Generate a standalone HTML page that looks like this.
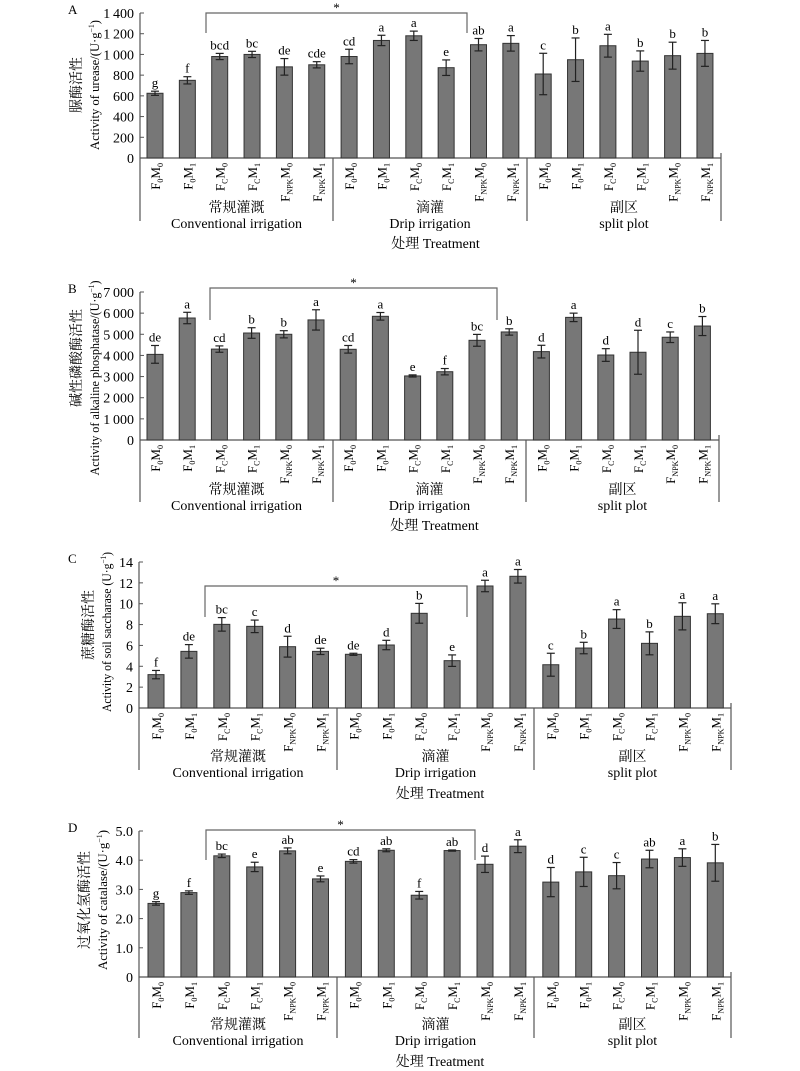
<!DOCTYPE html>
<html><head><meta charset="utf-8">
<style>
html,body{margin:0;padding:0;background:#fff;}
svg{display:block;font-family:"Liberation Serif","Noto Serif CJK SC",serif;}
</style></head>
<body>
<svg id="s" width="800" height="1071" viewBox="0 0 800 1071" xmlns="http://www.w3.org/2000/svg"></svg>
<script>
var NS="http://www.w3.org/2000/svg",S=document.getElementById('s');
function el(t,a,txt){var e=document.createElementNS(NS,t);for(var k in a)e.setAttribute(k,a[k]);if(txt!=null)e.textContent=txt;S.appendChild(e);return e;}
function line(x1,y1,x2,y2,c,w){el('line',{x1:x1,y1:y1,x2:x2,y2:y2,stroke:c||'#444','stroke-width':w||1});}
var cats=[["0","0"],["0","1"],["C","0"],["C","1"],["NPK","0"],["NPK","1"]];
var panels=[
{L:"A",ax:140,first:155,step:32.35,end:721,div:[333,527],top:13,zero:158,max:1400,ticks:[0,200,400,600,800,1000,1200,1400],fmt:function(v){return v>=1000?"1\u2009"+String(v).slice(1):String(v);},
 cn:"脲酶活性",en:"Activity of  urease/(U·g",ylx:[76,94],ycn:85,yen:85,enLen:130,bot:221,labY:[212,228,248],br:[206,467,13,33,33],
 d:[[625,20,"g"],[750,35,"f"],[980,30,"bcd"],[1000,30,"bc"],[880,80,"de"],[900,30,"cde"],[980,70,"cd"],[1135,50,"a"],[1180,45,"a"],[872,75,"e"],[1094,60,"ab"],[1107,75,"a"],[811,200,"c"],[949,210,"b"],[1084,110,"a"],[936,98,"b"],[988,130,"b"],[1010,125,"b"]]},
{L:"B",ax:140,first:155,step:32.2,end:719,div:[333,526],top:292,zero:440,max:7000,ticks:[0,1000,2000,3000,4000,5000,6000,7000],fmt:function(v){return v==0?"0":String(v/1000)+"\u2009000";},
 cn:"碱性磷酸酶活性",en:"Activity of  alkaline phosphatase/(U·g",ylx:[76,94],ycn:358,yen:378,enLen:195,bot:502,labY:[494,510,530],br:[210,497,288,320,320],
 d:[[4050,420,"de"],[5770,270,"a"],[4300,150,"cd"],[5060,250,"b"],[5000,170,"b"],[5680,480,"a"],[4290,180,"cd"],[5850,180,"a"],[3030,50,"e"],[3230,150,"f"],[4715,280,"bc"],[5110,150,"b"],[4180,300,"d"],[5800,200,"a"],[4020,300,"d"],[4150,1040,"d"],[4860,250,"c"],[5390,450,"b"]]},
{L:"C",ax:139,first:156,step:32.9,end:731,div:[337,534],top:562,zero:708,max:14,ticks:[0,2,4,6,8,10,12,14],fmt:function(v){return String(v);},
 cn:"蔗糖酶活性",en:"Activity of  soil saccharase (U·g",ylx:[88,106],ycn:625,yen:632,enLen:160,bot:770,labY:[761,777,798],br:[205,467,586,617,617],
 d:[[3.2,0.4,"f"],[5.43,0.65,"de"],[8.02,0.65,"bc"],[7.83,0.6,"c"],[5.88,1.0,"d"],[5.43,0.3,"de"],[5.15,0.1,"de"],[6.04,0.45,"d"],[9.08,0.95,"b"],[4.54,0.55,"e"],[11.7,0.55,"a"],[12.63,0.65,"a"],[4.15,1.1,"c"],[5.75,0.55,"b"],[8.53,0.9,"a"],[6.2,1.1,"b"],[8.79,1.3,"a"],[9.04,0.95,"a"]]},
{L:"D",ax:139,first:156,step:32.9,end:731,div:[337,534],top:831,zero:977,max:5,ticks:[0,1,2,3,4,5],fmt:function(v){return v==0?"0":v.toFixed(1);},
 cn:"过氧化氢酶活性",en:"Activity of  catalase/(U·g",ylx:[84,102],ycn:900,yen:900,enLen:140,bot:1038,labY:[1029,1045,1066],br:[206,475,830,860,860],
 d:[[2.52,0.06,"g"],[2.89,0.06,"f"],[4.15,0.06,"bc"],[3.77,0.16,"e"],[4.32,0.1,"ab"],[3.36,0.1,"e"],[3.96,0.06,"cd"],[4.34,0.05,"ab"],[2.8,0.13,"f"],[4.33,0.02,"ab"],[3.86,0.28,"d"],[4.48,0.22,"a"],[3.25,0.5,"d"],[3.6,0.5,"c"],[3.47,0.45,"c"],[4.04,0.3,"ab"],[4.09,0.3,"a"],[3.91,0.63,"b"]]}
];
panels.forEach(function(p){
  var sc=(p.zero-p.top)/p.max;
  function Y(v){return p.zero-v*sc;}
  el('text',{x:68,y:p.top+1,'font-size':13},p.L);
  line(p.ax,p.top,p.ax,p.bot,'#555',1.2);
  line(p.ax,p.zero,p.end,p.zero,'#555',1.2);
  line(p.end,p.zero-5,p.end,p.bot,'#555',1.2);
  p.div.forEach(function(x){line(x,p.zero,x,p.bot,'#555',1.2);});
  p.ticks.forEach(function(v){
    var y=Y(v);line(p.ax,y,p.ax+4,y,'#555',1);
    el('text',{x:p.ax-6,y:y+5,'font-size':14,'text-anchor':'end'},p.fmt(v));
  });
  el('text',{x:0,y:0,'font-size':14,'text-anchor':'middle',transform:'translate('+(p.ylx[0]+5)+','+p.ycn+') rotate(-90)'},p.cn);
  var t=el('text',{x:0,y:0,'font-size':13,'text-anchor':'middle',textLength:p.enLen,lengthAdjust:'spacingAndGlyphs',transform:'translate('+(p.ylx[1]+5)+','+p.yen+') rotate(-90)'});
  t.textContent=p.en;
  var sup=document.createElementNS(NS,'tspan');sup.setAttribute('dy','-5');sup.setAttribute('font-size','8');sup.textContent='−1';t.appendChild(sup);
  var cl=document.createElementNS(NS,'tspan');cl.setAttribute('dy','5');cl.textContent=')';t.appendChild(cl);
  p.d.forEach(function(d,i){
    var cx=p.first+i*p.step,y=Y(d[0]),bw=16;
    el('rect',{x:cx-bw/2,y:y,width:bw,height:p.zero-y,fill:'#777',stroke:'#333','stroke-width':1});
    var e1=Y(d[0]+d[1]),e2=Y(d[0]-d[1]);
    line(cx,e1,cx,e2,'#222',1.2);line(cx-4,e1,cx+4,e1,'#222',1.2);line(cx-4,e2,cx+4,e2,'#222',1.2);
    el('text',{x:cx,y:e1-4,'font-size':13,'text-anchor':'middle'},d[2]);
    var c=cats[i%6];
    var tx=el('text',{x:0,y:0,'font-size':13,'text-anchor':'end',transform:'translate('+(cx+5)+','+(p.zero+5)+') rotate(-90)'});
    [["F",0],[c[0],1],["M",0],[c[1],1]].forEach(function(s){
      var ts=document.createElementNS(NS,'tspan');ts.textContent=s[0];
      if(s[1]){ts.setAttribute('font-size','8');ts.setAttribute('dy','3');}else if(tx.childNodes.length){ts.setAttribute('dy','-3');}
      tx.appendChild(ts);
    });
  });
  var g=[[p.ax,p.div[0]],[p.div[0],p.div[1]],[p.div[1],p.end]];
  var cn=["常规灌溉","滴灌","副区"],en=["Conventional irrigation","Drip irrigation","split plot"];
  g.forEach(function(r,k){var cx=(r[0]+r[1])/2;
    el('text',{x:cx,y:p.labY[0],'font-size':14,'text-anchor':'middle'},cn[k]);
    el('text',{x:cx,y:p.labY[1],'font-size':14,'text-anchor':'middle'},en[k]);});
  el('text',{x:(p.ax+p.end)/2+5,y:p.labY[2],'font-size':14,'text-anchor':'middle'},"处理 Treatment");
  var b=p.br;
  el('polyline',{points:b[0]+','+b[3]+' '+b[0]+','+b[2]+' '+b[1]+','+b[2]+' '+b[1]+','+b[4],fill:'none',stroke:'#666','stroke-width':1.2});
  el('text',{x:(b[0]+b[1])/2,y:b[2]-1,'font-size':13,'text-anchor':'middle'},"*");
});
</script>
</body></html>
